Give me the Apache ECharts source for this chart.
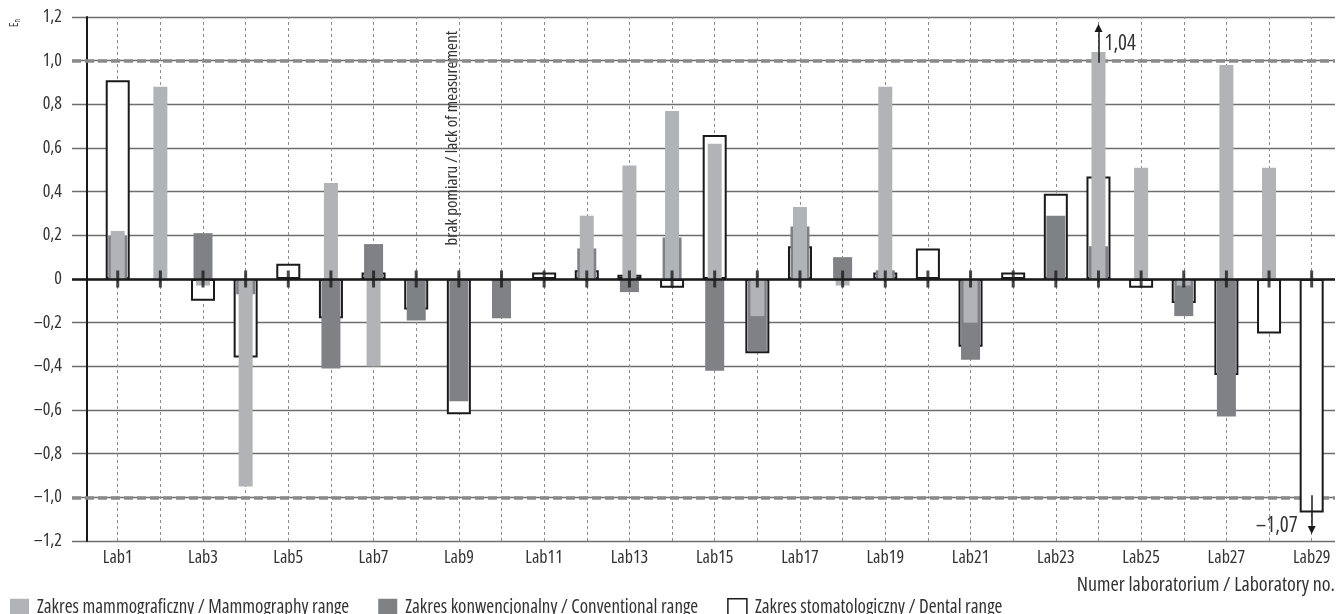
<!DOCTYPE html>
<html>
<head>
<meta charset="utf-8">
<title>En – porównanie laboratoriów</title>
<script src="https://cdn.jsdelivr.net/npm/echarts@6/dist/echarts.min.js"></script>
<style>
  html, body { margin: 0; padding: 0; background: #fff; }
  #chart { width: 1342px; height: 614px; }
</style>
</head>
<body>
<div id="chart"></div>
<script>
// Laboratories
const labs = ['Lab1', 'Lab2', 'Lab3', 'Lab4', 'Lab5', 'Lab6', 'Lab7', 'Lab8', 'Lab9', 'Lab10',
  'Lab11', 'Lab12', 'Lab13', 'Lab14', 'Lab15', 'Lab16', 'Lab17', 'Lab18', 'Lab19', 'Lab20',
  'Lab21', 'Lab22', 'Lab23', 'Lab24', 'Lab25', 'Lab26', 'Lab27', 'Lab28', 'Lab29'];

// En values per range (null = no result)
const mammography = [0.22, 0.88, -0.03, -0.95, null, 0.44, -0.40, null, null, null,
  null, 0.29, 0.52, 0.77, 0.62, -0.17, 0.33, -0.03, 0.88, null,
  -0.20, null, null, 1.04, 0.51, -0.03, 0.98, 0.51, null];
const conventional = [0.20, null, 0.21, -0.07, null, -0.41, 0.16, -0.19, -0.56, -0.18,
  null, 0.14, -0.06, 0.19, -0.42, -0.33, 0.24, 0.10, 0.04, null,
  -0.37, null, 0.29, 0.15, null, -0.17, -0.63, null, null];
const dental = [0.91, null, -0.10, -0.36, 0.07, -0.18, 0.03, -0.14, -0.62, null,
  0.03, 0.04, 0.02, -0.04, 0.66, -0.34, 0.15, null, 0.03, 0.14,
  -0.31, 0.03, 0.39, 0.47, -0.04, -0.11, -0.44, -0.25, -1.07];

// Axis range and acceptance limit
const yMin = -1.2, yMax = 1.2, yStep = 0.2;
const limit = 1.0;

// Texts
const names = {
  mammography: 'Zakres mammograficzny / Mammography range',
  conventional: 'Zakres konwencjonalny / Conventional range',
  dental: 'Zakres stomatologiczny / Dental range'
};
const xTitle = 'Numer laboratorium / Laboratory no.';
const missingNote = { lab: 'Lab9', text: 'brak pomiaru / lack of measurement' };

// Condensed face of Open Sans, Roboto Condensed as a fallback
const FAMILY = "'Open Sans', 'Roboto Condensed', sans-serif";
const STRETCH = 'normal condensed';   // weight + font-stretch in the canvas font shorthand
const font = size => 'normal normal condensed ' + size + 'px ' + FAMILY;
const TEXT = '#333333';
const MINUS = '\u2013';

function txt(size, extra) {
  return Object.assign({ fontSize: size, fontFamily: FAMILY, fontWeight: STRETCH, color: TEXT }, extra || {});
}

function fmtNum(v, digits) {
  if (Math.abs(v) < 1e-9) return '0';
  return (v < 0 ? MINUS : '') + Math.abs(v).toFixed(digits).replace('.', ',');
}

// Arrows and value labels for results beyond the plotted limit
function overflowMarkers(values) {
  const lines = [], points = [];
  values.forEach((v, i) => {
    if (v == null || Math.abs(v) <= limit) return;
    const s = Math.sign(v);
    lines.push([{ coord: [labs[i], s * 0.99] }, { coord: [labs[i], s * 1.15] }]);
    points.push({
      coord: [labs[i], s > 0 ? 1.077 : -1.13],
      value: v,
      label: { position: s > 0 ? 'right' : 'left', distance: s > 0 ? 6 : 14 }
    });
  });
  return {
    markLine: {
      silent: true, z: 6,
      symbol: ['none', 'triangle'], symbolSize: 8,
      lineStyle: { color: '#1a1a1a', width: 1.5, type: 'solid' },
      label: { show: false },
      data: lines
    },
    markPoint: {
      silent: true, symbol: 'circle', symbolSize: 0,
      label: txt(21, { show: true, formatter: p => fmtNum(p.value, 2) }),
      data: points
    }
  };
}

const chart = echarts.init(document.getElementById('chart'), null, { renderer: 'canvas' });

const gridBox = { top: 17, bottom: 73, outerBoundsMode: 'none', containLabel: false };

const option = {
  animation: false,
  backgroundColor: '#ffffff',
  grid: [
    Object.assign({ left: 96.4, right: 9 }, gridBox),  // bars
    Object.assign({ left: 72, right: 7 }, gridBox),    // horizontal rules
    Object.assign({ left: 87, right: 7 }, gridBox)     // vertical axis line
  ],
  xAxis: [
    {
      gridIndex: 0, type: 'category', data: labs, position: 'bottom',
      axisLine: { show: false, onZero: false }, axisTick: { show: false },
      splitLine: { show: false },
      axisLabel: txt(18, { interval: 1, margin: 8 })
    },
    { gridIndex: 0, type: 'category', data: labs, position: 'bottom', show: false, axisLine: { onZero: false } },
    { gridIndex: 0, type: 'category', data: labs, position: 'bottom', show: false, axisLine: { onZero: false } },
    { gridIndex: 1, type: 'value', min: 0, max: 1, show: false, axisLine: { onZero: false } },
    { gridIndex: 2, type: 'value', min: 0, max: 1, show: false, axisLine: { onZero: false } }
  ],
  yAxis: [
    { gridIndex: 0, type: 'value', min: yMin, max: yMax, interval: yStep, show: false },
    {
      gridIndex: 1, type: 'value', min: yMin, max: yMax, interval: yStep,
      axisLine: { show: false }, axisTick: { show: false },
      splitLine: { lineStyle: { color: '#6e6e6e', width: 1.3 } },
      axisLabel: txt(18, { margin: 10, formatter: v => fmtNum(v, 1) })
    },
    {
      gridIndex: 2, type: 'value', min: yMin, max: yMax, interval: yStep,
      axisLine: { show: true, onZero: false, lineStyle: { color: '#1a1a1a', width: 2 } },
      axisTick: { show: false }, axisLabel: { show: false }, splitLine: { show: false }
    }
  ],
  legend: {
    left: 5, top: 593, itemWidth: 19, itemHeight: 18, itemGap: 29, icon: 'rect',
    textStyle: txt(19, { padding: [0, 0, 0, 3] }),
    data: [
      { name: names.mammography },
      { name: names.conventional },
      { name: names.dental, itemStyle: { color: '#ffffff', borderColor: '#1a1a1a', borderWidth: 1.5 } }
    ]
  },
  series: [
    // limit lines at +/-1 (behind the bars)
    {
      type: 'line', xAxisIndex: 3, yAxisIndex: 1, data: [], silent: true,
      markLine: {
        silent: true, z: 1, symbol: 'none', label: { show: false },
        lineStyle: { color: '#8a8a8a', width: 3.5, type: [9, 4] },
        data: [{ yAxis: limit }, { yAxis: -limit }]
      }
    },
    // zero line (over the bars)
    {
      type: 'line', xAxisIndex: 3, yAxisIndex: 1, data: [], silent: true,
      markLine: {
        silent: true, z: 5, symbol: 'none', label: { show: false },
        lineStyle: { color: '#1a1a1a', width: 2.5, type: 'solid' },
        data: [{ yAxis: 0 }]
      }
    },
    Object.assign({
      name: names.dental, type: 'bar', xAxisIndex: 0, yAxisIndex: 0,
      data: dental, barWidth: 24, z: 2,
      itemStyle: { color: '#ffffff', borderColor: '#1a1a1a', borderWidth: 2 },
      emphasis: { disabled: true }
    }, overflowMarkers(dental)),
    Object.assign({
      name: names.conventional, type: 'bar', xAxisIndex: 1, yAxisIndex: 0,
      data: conventional, barWidth: 19, z: 2,
      itemStyle: { color: '#808184' },
      emphasis: { disabled: true }
    }, overflowMarkers(conventional)),
    Object.assign({
      name: names.mammography, type: 'bar', xAxisIndex: 2, yAxisIndex: 0,
      data: mammography, barWidth: 14, z: 2,
      itemStyle: { color: '#b1b3b6' },
      emphasis: { disabled: true }
    }, overflowMarkers(mammography)),
    // category tick crosses on the zero line, plus dotted category guides
    {
      type: 'scatter', xAxisIndex: 0, yAxisIndex: 0, silent: true, z: 7,
      symbol: 'rect', symbolSize: [3, 17],
      itemStyle: { color: '#1a1a1a' },
      data: labs.map(() => 0),
      markLine: {
        silent: true, z: 1, symbol: 'none', label: { show: false },
        lineStyle: { color: '#8c8c8c', width: 1, type: [3, 3] },
        data: labs.map(l => ({ xAxis: l }))
      }
    }
  ]
};

chart.setOption(option);

// Annotations placed through the axes
const noteX = chart.convertToPixel({ xAxisIndex: 0 }, missingNote.lab);
const noteY = chart.convertToPixel({ yAxisIndex: 0 }, 0.645);
chart.setOption({
  graphic: [
    {
      type: 'text', x: noteX - 7, y: noteY, rotation: Math.PI / 2, silent: true,
      style: { text: missingNote.text, fill: TEXT, font: font(17), align: 'center', verticalAlign: 'middle' }
    },
    {
      type: 'text', x: 1335, y: 585, silent: true,
      style: { text: xTitle, fill: TEXT, font: font(20), align: 'right', verticalAlign: 'middle' }
    },
    {
      type: 'text', x: 15, y: 23, rotation: Math.PI / 2, silent: true,
      style: {
        text: '{e|E}{n|n}', align: 'center', verticalAlign: 'middle', fill: TEXT,
        rich: {
          e: { fontSize: 12, fontFamily: FAMILY, fontWeight: STRETCH, fill: TEXT },
          n: { fontSize: 8, fontFamily: FAMILY, fontWeight: STRETCH, fill: TEXT, padding: [5, 0, 0, 0] }
        }
      }
    }
  ]
});
</script>
</body>
</html>
